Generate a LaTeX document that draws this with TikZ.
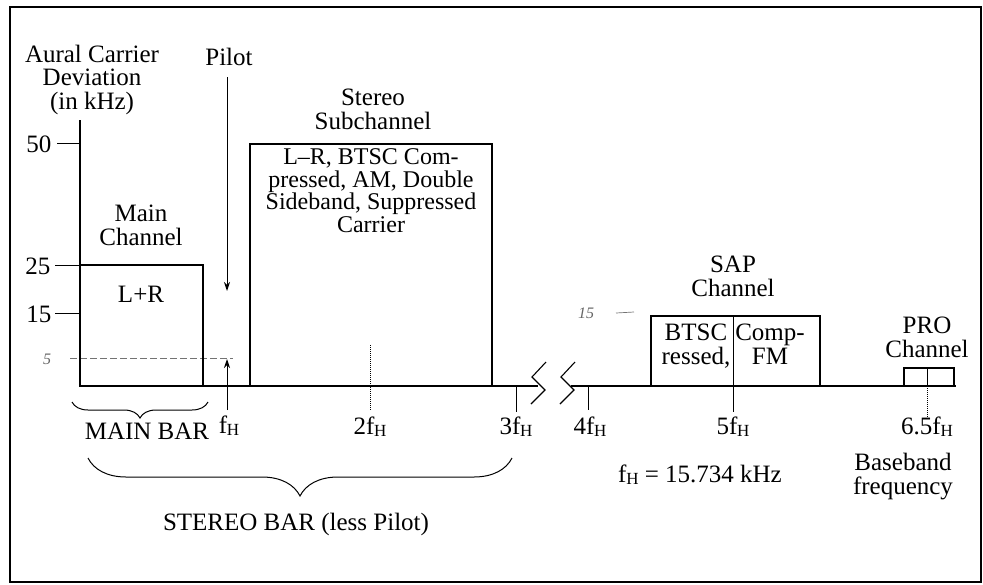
\documentclass[tikz,border=0pt]{standalone}
\usepackage{fontspec}
\setmainfont{Liberation Serif}
\usetikzlibrary{arrows.meta,decorations.pathreplacing}
\newcommand{\fh}{f\kern-0.3pt\raisebox{-2.5pt}{\fontsize{17}{17}\selectfont H}}

\begin{document}
\begin{tikzpicture}[x=1pt, y=-1pt, line width=1.1pt,
  tx/.style={inner sep=0pt, anchor=base, align=center,
             font=\fontsize{25}{23.5}\selectfont},
  hw/.style={inner sep=0pt, anchor=base, black!60,
             font=\fontsize{16}{16}\selectfont\itshape},
  ch/.style={draw, line width=1.1pt},
  tk/.style={line width=1pt},
  arr/.style={line width=1pt, -{Stealth[length=9pt, width=6pt]}},
  br/.style={decorate, decoration={brace, mirror, amplitude=#1},
             line width=1pt}
]
\useasboundingbox (0,0) rectangle (983,584);
\draw[line width=1.7pt] (10,7) rectangle (981,582);

\node[tx] (ylab) at (92,109) {Aural Carrier\\Deviation\\(in kHz)};
\draw[line width=1.2pt] (80,120) -- (80,386) -- (538,386);
\draw[line width=1.2pt] (571,386) -- (956,386);
\draw[line width=1.1pt] (546,362) -- (532,377) -- (545,390) -- (531,404);
\draw[line width=1.1pt] (575,362) -- (561,377) -- (574,390) -- (560,404);

\draw[tk] (57,143) -- (80,143);
\draw[tk] (55,265) -- (80,265);
\draw[tk] (55,313) -- (80,313);
\node[tx, anchor=base east] (v50) at (52,152) {50};
\node[tx, anchor=base east] (v25) at (51,274) {25};
\node[tx, anchor=base east] (v15) at (52,322) {15};
\node[hw] (h5) at (47,364) {5};
\draw[black!55, line width=0.6pt, dash pattern=on 7pt off 3pt] (70,358) -- (233,358);

\draw[ch] (80,265) rectangle (203,386);
\node[tx] (mainch) at (141,245) {Main\\Channel};
\node[tx] (lr) at (141,302) {L+R};

\node[tx] (pilot) at (229,65) {Pilot};
\coordinate (ptop) at (227,77);
\coordinate (pbot) at (227,291);
\draw[arr] (ptop) -- (pbot);
\coordinate (fhbot) at (227,410);
\coordinate (fhtop) at (227,359);
\draw[arr] (fhbot) -- (fhtop);
\node[tx] (f1) at (229,433) {\fh};

\draw[ch] (250,144) rectangle (492,386);
\node[tx] (stereo) at (373,129) {Stereo\\Subchannel};
\node[tx, font=\fontsize{24}{22.5}\selectfont] (lmr) at (371,232)
  {L--R, BTSC Com-\\pressed, AM, Double\\Sideband, Suppressed\\Carrier};
\draw[tk, densely dotted] (370,345) -- (370,410);
\node[tx] (f2) at (370,434) {2\fh};
\draw[tk] (516,386) -- (516,412);
\node[tx] (f3) at (516,434) {3\fh};
\draw[tk] (588,386) -- (588,410);
\node[tx] (f4) at (590,434) {4\fh};

\node[hw] (h15) at (586,318) {15};
\draw[black!55, line width=0.7pt] (616,313) -- (634,312);
\draw[ch] (651,316) rectangle (820,386);
\draw[tk] (733,316) -- (733,412);
\node[tx] (sap) at (733,296) {SAP\\Channel};
\node[tx] (btsc) at (696,364) {BTSC\\ressed,};
\node[tx] (comp) at (770,364) {Comp-\\FM};
\node[tx] (f5) at (733,434) {5\fh};

\draw[ch] (904,368) rectangle (954,386);
\draw[tk] (927,368) -- (927,386);
\draw[tk, densely dotted] (927,386) -- (927,418);
\node[tx] (pro) at (927,357) {PRO\\Channel};
\node[tx] (f65) at (927,434) {6.5\fh};
\node[tx] (base) at (903,494) {Baseband\\frequency};
\node[tx] (fhval) at (700,482) {\fh{} = 15.734 kHz};

\draw[br=16pt] (72,402) -- (208,402);
\node[tx] (mainbar) at (147,439) {MAIN BAR};
\draw[br=38pt] (88,458) -- (512,458);
\node[tx] (stereobar) at (296,530) {STEREO BAR (less Pilot)};
\end{tikzpicture}
\end{document}
